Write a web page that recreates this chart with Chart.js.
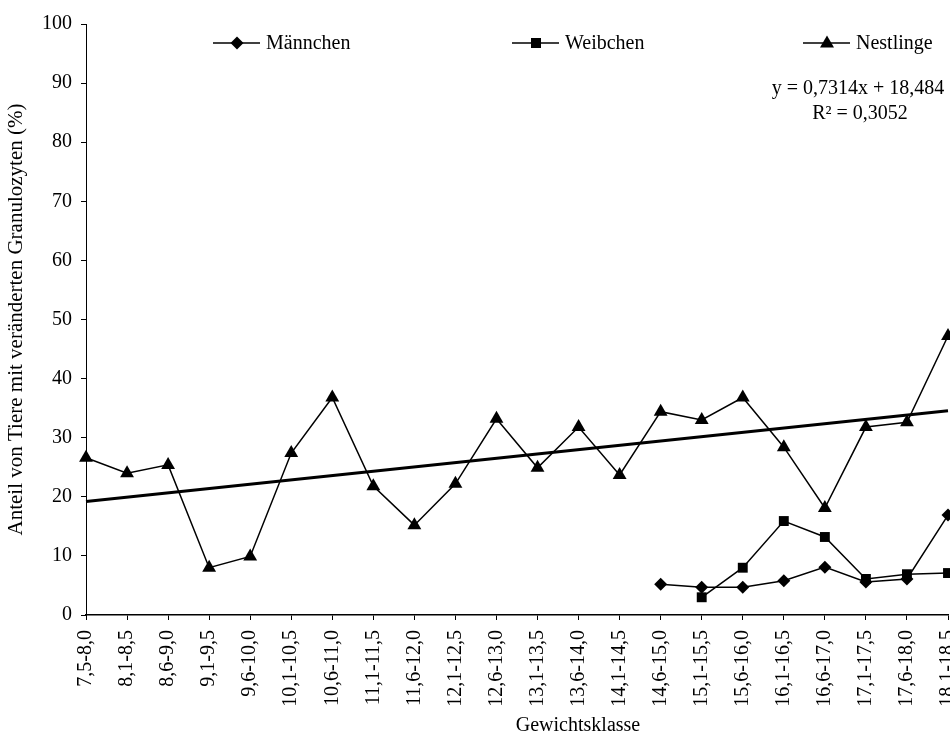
<!DOCTYPE html>
<html>
<head>
<meta charset="utf-8">
<script src="https://cdn.jsdelivr.net/npm/chart.js"></script>
<style>
  html, body { margin: 0; padding: 0; background: #fff; overflow: hidden; }
  #wrap { width: 950px; height: 733px; overflow: hidden; }
</style>
</head>
<body>
<div id="wrap"><canvas id="chart" width="1000" height="733"></canvas></div>
<script>
// Gewichtsklassen (x-Achse)
const classes = ['7,5-8,0', '8,1-8,5', '8,6-9,0', '9,1-9,5', '9,6-10,0', '10,1-10,5',
  '10,6-11,0', '11,1-11,5', '11,6-12,0', '12,1-12,5', '12,6-13,0', '13,1-13,5',
  '13,6-14,0', '14,1-14,5', '14,6-15,0', '15,1-15,5', '15,6-16,0', '16,1-16,5',
  '16,6-17,0', '17,1-17,5', '17,6-18,0', '18,1-18,5'];

const maennchen = [null, null, null, null, null, null, null, null, null, null, null,
  null, null, null, 5.2, 4.7, 4.7, 5.8, 8.1, 5.6, 6.1, 16.9];
const weibchen = [null, null, null, null, null, null, null, null, null, null, null,
  null, null, null, null, 3.0, 8.0, 15.9, 13.2, 6.1, 6.9, 7.1];
const nestlinge = [26.6, 24.0, 25.4, 8.0, 9.9, 27.4, 36.8, 21.8, 15.2, 22.2, 33.2,
  24.9, 31.8, 23.7, 34.4, 33.0, 36.8, 28.4, 18.1, 31.8, 32.6, 47.2];

// lineare Trendlinie (Nestlinge), laut Diagramm: y = 0,7314x + 18,484
const trendSlope = 0.7314;
const trendIntercept = 18.484;
const trendEnds = [1, classes.length];

const yTicks = [0, 10, 20, 30, 40, 50, 60, 70, 80, 90, 100];

const FONT = "'Liberation Serif', 'Times New Roman', serif";
Chart.defaults.font.family = FONT;
Chart.defaults.font.size = 20;
Chart.defaults.color = '#000';

// legend + equation + x title, drawn like the Excel original
const extras = {
  id: 'extras',
  afterDraw(chart) {
    const ctx = chart.ctx;
    const items = [
      { x: 213, text: 'Männchen', marker: 'diamond' },
      { x: 512, text: 'Weibchen', marker: 'square' },
      { x: 803, text: 'Nestlinge', marker: 'triangle' }
    ];
    const y = 43;
    ctx.save();
    ctx.strokeStyle = '#000';
    ctx.fillStyle = '#000';
    ctx.lineWidth = 1.5;
    ctx.font = '20px ' + FONT;
    ctx.textBaseline = 'middle';
    ctx.textAlign = 'left';
    items.forEach(it => {
      ctx.beginPath();
      ctx.moveTo(it.x, y);
      ctx.lineTo(it.x + 47, y);
      ctx.stroke();
      const cx = it.x + 24;
      ctx.beginPath();
      if (it.marker === 'diamond') {
        ctx.moveTo(cx, y - 6.5); ctx.lineTo(cx + 6.5, y); ctx.lineTo(cx, y + 6.5); ctx.lineTo(cx - 6.5, y);
      } else if (it.marker === 'square') {
        ctx.rect(cx - 5, y - 5, 10, 10);
      } else {
        ctx.moveTo(cx, y - 7.5); ctx.lineTo(cx + 7, y + 4.5); ctx.lineTo(cx - 7, y + 4.5);
      }
      ctx.closePath();
      ctx.fill();
      ctx.fillText(it.text, it.x + 53, y + 1);
    });
    ctx.textAlign = 'center';
    ctx.fillText('y = 0,7314x + 18,484', 858, 89);
    ctx.fillText('R² = 0,3052', 860, 114);
    ctx.fillText('Gewichtsklasse', 578, 726);
    ctx.restore();
  }
};

new Chart(document.getElementById('chart').getContext('2d'), {
  type: 'line',
  data: {
    labels: classes,
    datasets: [
      {
        label: 'Männchen',
        data: maennchen,
        borderColor: '#000', backgroundColor: '#000', borderWidth: 1.5,
        pointStyle: 'rectRot', pointRadius: 6.5, pointBorderWidth: 0,
        tension: 0, clip: false, spanGaps: false
      },
      {
        label: 'Weibchen',
        data: weibchen,
        borderColor: '#000', backgroundColor: '#000', borderWidth: 1.5,
        pointStyle: 'rect', pointRadius: 7, pointBorderWidth: 0,
        tension: 0, clip: false
      },
      {
        label: 'Nestlinge',
        data: nestlinge,
        borderColor: '#000', backgroundColor: '#000', borderWidth: 1.5,
        pointStyle: 'triangle', pointRadius: 8, pointBorderWidth: 0,
        tension: 0, clip: false
      },
      {
        label: 'Linear (Nestlinge)',
        data: trendEnds.map(i => ({ x: classes[i - 1], y: trendSlope * i + trendIntercept })),
        borderColor: '#000', borderWidth: 3, pointRadius: 0, tension: 0
      }
    ]
  },
  plugins: [extras],
  options: {
    responsive: false,
    animation: false,
    events: [],
    layout: { padding: { left: 0, right: 52, top: 24, bottom: 0 } },
    plugins: { legend: { display: false }, tooltip: { enabled: false } },
    scales: {
      x: {
        type: 'category',
        offset: false,
        afterFit: s => { s.height = 118; },
        grid: { display: true, drawOnChartArea: false, drawTicks: true, tickLength: 5, color: '#000' },
        border: { display: true, color: '#000', width: 1.5 },
        ticks: { autoSkip: false, minRotation: 90, maxRotation: 90, padding: 10, font: { size: 20 } }
      },
      y: {
        min: 0,
        max: 100,
        afterFit: s => { s.width = 86; },
        afterBuildTicks: s => { s.ticks = yTicks.map(v => ({ value: v })); },
        grid: { display: true, drawOnChartArea: false, drawTicks: true, tickLength: 5, color: '#000' },
        border: { display: true, color: '#000', width: 1 },
        ticks: { padding: 9, font: { size: 20 } },
        title: {
          display: true,
          text: 'Anteil von Tiere mit veränderten Granulozyten (%)',
          font: { size: 21 },
          padding: { top: 4, bottom: 0 }
        }
      }
    }
  }
});
</script>
</body>
</html>
